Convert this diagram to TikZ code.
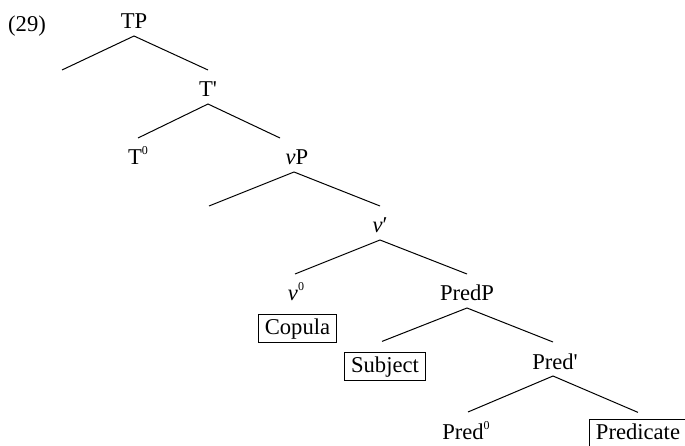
\documentclass[tikz,border=0pt]{standalone}
\usepackage{fontspec}
\setmainfont{Liberation Serif}
% same face without the TeX quote mapping, for straight bar-level ticks
\newfontfamily\plainserif{Liberation Serif}
\newcommand{\zsup}{\raisebox{10pt}{\fontsize{12}{12}\selectfont 0}}
\newcommand{\bartick}{{\plainserif\symbol{39}}}
\begin{document}
\begin{tikzpicture}[x=1pt,y=-1pt,
    lbl/.style={anchor=base,inner sep=0pt,font=\fontsize{22.6}{27}\selectfont},
    boxed/.style={lbl,draw,line width=0.8pt,inner xsep=6.5pt,inner ysep=3.8pt,
                  text height=15.4pt,text depth=4.9pt},
    branch/.style={line width=1pt}]
  \useasboundingbox (0,0) rectangle (685,446);

  % example number
  \node[lbl,anchor=base west] (ex) at (8,32) {(29)};

  % labelled nodes
  \node[lbl] (TP)    at (134,29)  {TP};
  \node[lbl] (Tb)    at (208,97)  {T\bartick};
  \node[lbl] (T0)    at (138,165) {T\zsup};
  \node[lbl] (vP)    at (297,165) {\textit{v}P};
  \node[lbl] (vb)    at (380,233) {\textit{v}′};
  \node[lbl] (v0)    at (296,301) {\textit{v}\zsup};
  \node[boxed] (cop) at (297.5,334) {Copula};
  \node[lbl] (PredP) at (467,301) {PredP};
  \node[boxed] (subj) at (385,372) {Subject};
  \node[lbl] (Predb) at (555,369) {Pred\bartick};
  \node[lbl] (Pred0) at (466,439) {Pred\zsup};
  \node[boxed] (pred) at (638,439) {Predicate};

  % empty specifier positions
  \coordinate (specT) at (62,70);
  \coordinate (specv) at (209,206);

  % branches
  \draw[branch] (specT) -- ([yshift=-7pt]TP.base) -- ([yshift=27pt]Tb.base);
  \draw[branch] ([yshift=27pt]T0.base) -- ([yshift=-7pt]Tb.base) -- ([xshift=-17pt,yshift=27pt]vP.base);
  \draw[branch] (specv) -- ([xshift=-3pt,yshift=-7pt]vP.base) -- ([yshift=27pt]vb.base);
  \draw[branch] ([xshift=-1pt,yshift=27pt]v0.base) -- ([yshift=-7pt]vb.base) -- ([yshift=27pt]PredP.base);
  \draw[branch] ([xshift=-3pt,yshift=11pt]subj.north) -- ([yshift=-7pt]PredP.base) -- ([xshift=-2pt,yshift=27pt]Predb.base);
  \draw[branch] ([xshift=2pt,yshift=27pt]Pred0.base) -- ([xshift=-2pt,yshift=-7pt]Predb.base) -- ([yshift=7pt]pred.north);
\end{tikzpicture}
\end{document}
